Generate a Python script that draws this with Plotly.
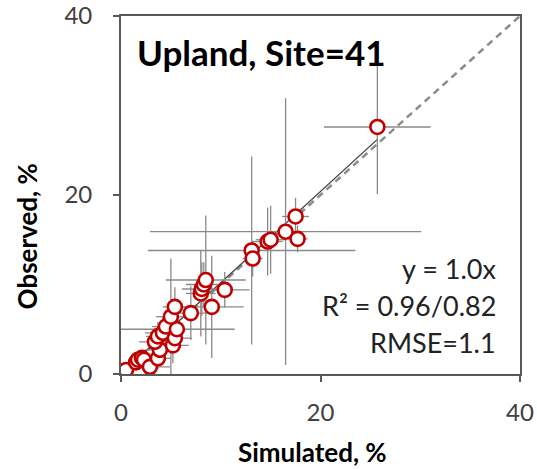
import plotly.graph_objects as go

# Simulated vs observed values (%) with their uncertainty ranges
simulated = [0.5, 1.5, 1.7, 2.1, 2.3, 2.9, 3.7, 3.9, 3.4, 3.7, 4.2, 4.5, 5.2, 5.4, 5.6, 5.0,
             5.4, 7.0, 8.0, 8.1, 8.3, 8.5, 9.1, 10.4, 13.1, 13.2, 14.7, 15.0, 16.5, 17.7,
             17.5, 25.7]
observed = [0.45, 1.3, 1.6, 1.8, 1.6, 0.8, 1.75, 2.7, 3.6, 4.2, 4.6, 5.3, 3.2, 4.0, 5.0, 6.4,
            7.5, 6.8, 9.0, 9.5, 10.0, 10.5, 7.5, 9.4, 13.8, 12.9, 14.8, 15.0, 15.9, 15.1,
            17.6, 27.6]
simulated_err = [0.3, 0.6, 0.8, 1.0, 1.2, 2.0, 1.3, 1.5, 1.6, 1.2, 1.8, 1.4, 1.6, 1.7, 5.8, 1.5,
                 1.2, 1.6, 1.5, 2.0, 1.8, 4.0, 3.2, 2.5, 10.4, 1.0, 1.5, 1.5, 13.6, 1.0,
                 1.35, 5.35]
observed_err = [0.3, 0.5, 0.6, 0.8, 0.7, 0.8, 1.2, 1.4, 1.5, 1.6, 1.8, 1.7, 2.0, 1.5, 2.0, 6.5,
                2.2, 3.0, 4.8, 3.0, 2.5, 7.2, 5.7, 2.0, 10.5, 2.0, 3.8, 3.8, 14.9, 1.5,
                2.1, 7.5]

slope = 1.02
r2_text = "0.96/0.82"
rmse = 1.1
axis_ticks = [0, 20, 40]
axis_max = 40

FONT = "Lato"
AXIS_GREY = "#595959"

fig = go.Figure()

# 1:1 reference line
fig.add_trace(go.Scatter(
    x=[0, axis_max], y=[0, axis_max], mode="lines",
    line=dict(color="#8c8c8c", width=2.5, dash="7px,5px"),
    hoverinfo="skip", showlegend=False,
))

# fitted line through the origin
x_fit_end = max(simulated)
fig.add_trace(go.Scatter(
    x=[0, x_fit_end], y=[0, slope * x_fit_end], mode="lines",
    line=dict(color="#404040", width=1.3),
    hoverinfo="skip", showlegend=False,
))

# points with error bars
fig.add_trace(go.Scatter(
    x=simulated, y=observed, mode="markers",
    marker=dict(symbol="circle", size=14, color="white",
                line=dict(color="#C00000", width=2.6)),
    error_x=dict(type="data", array=simulated_err, color="#8a8a8a", thickness=1.3, width=0),
    error_y=dict(type="data", array=observed_err, color="#8a8a8a", thickness=1.3, width=0),
    showlegend=False,
))

axis_common = dict(
    range=[0, axis_max], tickvals=axis_ticks, ticktext=[str(t) for t in axis_ticks],
    showgrid=False, zeroline=False, automargin=False,
    showline=True, linecolor=AXIS_GREY, linewidth=1.8, mirror=True,
    ticks="outside", ticklen=6, tickwidth=1.5, tickcolor=AXIS_GREY,
    tickfont=dict(family=FONT, size=24, color="#404040"),
)

fig.update_layout(
    width=537, height=469,
    margin=dict(l=121, r=17, t=16, b=95),
    paper_bgcolor="white", plot_bgcolor="white",
    xaxis=dict(**axis_common, ticklabelstandoff=10),
    yaxis=dict(**axis_common, ticklabelstandoff=16),
    annotations=[
        dict(text="<b>Upland, Site=41</b>", xref="x", yref="y", x=1.4, y=36.0,
             xanchor="left", yanchor="middle", showarrow=False,
             font=dict(family=FONT, size=35, color="black")),
        dict(text=f"y = {slope:.1f}x", xref="x", yref="y", x=37.8, y=11.8,
             xanchor="right", yanchor="middle", showarrow=False,
             font=dict(family=FONT, size=27, color="#222222")),
        dict(text=f"R² = {r2_text}", xref="x", yref="y", x=37.8, y=7.7,
             xanchor="right", yanchor="middle", showarrow=False,
             font=dict(family=FONT, size=27, color="#222222")),
        dict(text=f"RMSE={rmse}", xref="x", yref="y", x=37.8, y=3.5,
             xanchor="right", yanchor="middle", showarrow=False,
             font=dict(family=FONT, size=27, color="#222222")),
        dict(text="<b>Simulated, %</b>", xref="paper", yref="paper", x=0.48, y=-0.218,
             xanchor="center", yanchor="middle", showarrow=False,
             font=dict(family=FONT, size=26, color="black")),
        dict(text="<b>Observed, %</b>", xref="paper", yref="paper", x=-0.235, y=0.385,
             xanchor="center", yanchor="middle", textangle=-90, showarrow=False,
             font=dict(family=FONT, size=26, color="black")),
    ],
)

fig.write_html("out.html")
